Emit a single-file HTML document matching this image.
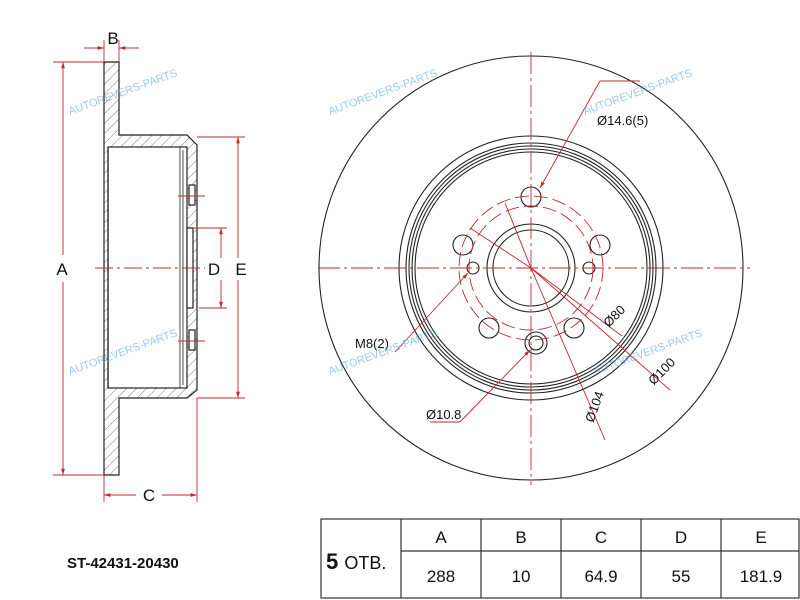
<!DOCTYPE html>
<html><head><style>
body{margin:0;background:#fff}
svg{display:block;font-family:"Liberation Sans",Arial,sans-serif}
</style></head><body>
<svg width="800" height="600" viewBox="0 0 800 600">
<defs>
<pattern id="h" width="7" height="7" patternUnits="userSpaceOnUse" patternTransform="rotate(45)"><line x1="0" y1="0" x2="0" y2="7" stroke="#444" stroke-width="0.7"/></pattern>
<marker id="a" viewBox="0 0 10 10" refX="10" refY="5" markerWidth="7" markerHeight="7" orient="auto-start-reverse"><path d="M0,2 L10,5 L0,8z" fill="#c0282e"/></marker>
</defs>
<!-- side view -->
<g stroke="#222" stroke-width="1.2">
<path d="M104,62 H119 V135 H187 L197,145 V390 L187,398 H119 V475 H104 Z" fill="url(#h)"/>
<rect x="108" y="147" width="79" height="241" fill="#fff"/>
<line x1="108" y1="147" x2="108" y2="388"/>
<line x1="180" y1="147" x2="180" y2="388" stroke-width="0.8"/>
<line x1="183" y1="150" x2="183" y2="385" stroke-width="0.8"/>
<rect x="187" y="228" width="6" height="80" fill="#fff"/>
<rect x="189" y="185" width="6" height="20" fill="#fff"/>
<rect x="189" y="330" width="6" height="20" fill="#fff"/>
</g>
<g stroke="#c0282e" stroke-width="0.9" fill="none">
<line x1="95" y1="268" x2="205" y2="268" stroke-dasharray="18,4,3,4"/>
<line x1="53" y1="62" x2="104" y2="62"/><line x1="53" y1="475" x2="104" y2="475"/>
<line x1="63" y1="62" x2="63" y2="255" marker-start="url(#a)"/><line x1="63" y1="282" x2="63" y2="475" marker-end="url(#a)"/>
<line x1="104" y1="40" x2="104" y2="62"/><line x1="119" y1="40" x2="119" y2="62"/>
<line x1="84" y1="48" x2="104" y2="48" marker-end="url(#a)"/><line x1="139" y1="48" x2="119" y2="48" marker-end="url(#a)"/>
<line x1="104" y1="475" x2="104" y2="502"/><line x1="197" y1="398" x2="197" y2="502"/>
<line x1="136" y1="495" x2="104" y2="495" marker-end="url(#a)"/><line x1="162" y1="495" x2="197" y2="495" marker-end="url(#a)"/>
<line x1="193" y1="228" x2="227" y2="228"/><line x1="199" y1="308" x2="227" y2="308"/>
<line x1="221" y1="258" x2="221" y2="228" marker-end="url(#a)"/><line x1="221" y1="280" x2="221" y2="308" marker-end="url(#a)"/>
<line x1="197" y1="137" x2="245" y2="137"/><line x1="197" y1="398" x2="245" y2="398"/>
<line x1="238" y1="258" x2="238" y2="137" marker-end="url(#a)"/><line x1="238" y1="280" x2="238" y2="398" marker-end="url(#a)"/>
<line x1="178" y1="196" x2="205" y2="196"/><line x1="178" y1="341" x2="205" y2="341"/>
</g>
<g font-size="17" fill="#111" text-anchor="middle">
<text x="62" y="275">A</text><text x="113" y="44">B</text><text x="149" y="501">C</text><text x="214" y="275">D</text><text x="241" y="275">E</text>
</g>
<!-- front view -->
<g stroke="#222" stroke-width="1.1" fill="none">
<circle cx="531" cy="268" r="212"/>
<circle cx="531" cy="268" r="132"/>
<circle cx="531" cy="268" r="125"/>
<circle cx="531" cy="268" r="122"/>
<circle cx="531" cy="268" r="119"/>
<circle cx="531" cy="268" r="116"/>
<circle cx="531" cy="268" r="44"/>
<circle cx="531" cy="268" r="38"/>
<circle cx="531" cy="197" r="10"/>
<circle cx="463" cy="245" r="10"/>
<circle cx="600" cy="245" r="10"/>
<circle cx="489" cy="328" r="10"/>
<circle cx="574" cy="328" r="10"/>
<circle cx="536" cy="343" r="11"/>
<circle cx="536" cy="343" r="7"/>
<circle cx="473" cy="268" r="6"/>
<circle cx="589" cy="268" r="6"/>
</g>
<g stroke="#c0282e" stroke-width="0.9" fill="none">
<line x1="318" y1="268" x2="750" y2="268" stroke-dasharray="22,4,3,4"/>
<line x1="531" y1="52" x2="531" y2="485" stroke-dasharray="22,4,3,4"/>
<circle cx="531" cy="268" r="72" stroke-dasharray="14,5"/>
<circle cx="531" cy="268" r="62" stroke-dasharray="14,5"/>
<line x1="531" y1="268" x2="670" y2="390"/>
<line x1="531" y1="268" x2="605" y2="440"/>
<line x1="505" y1="203" x2="531" y2="268"/>
<line x1="531" y1="268" x2="622" y2="336"/>
<line x1="470" y1="228" x2="531" y2="268"/>
<line x1="600" y1="81" x2="540" y2="188" marker-end="url(#a)"/>
<line x1="600" y1="81" x2="640" y2="81"/>
<line x1="395" y1="352" x2="468" y2="273" marker-end="url(#a)"/>
<line x1="460" y1="422" x2="530" y2="350" marker-end="url(#a)"/>
<line x1="430" y1="422" x2="460" y2="422"/>
</g>
<g font-size="13" fill="#111">
<text x="597" y="125">Ø14.6(5)</text>
<text x="355" y="348">M8(2)</text>
<text x="426" y="419">Ø10.8</text>
<text x="603" y="322" transform="rotate(-45 613 318)">Ø80</text>
<text x="648" y="378" transform="rotate(-45 660 375)">Ø100</text>
<text x="598" y="410" transform="rotate(-70 605 420)">Ø104</text>
</g>
<!-- watermarks -->
<g fill="#5aa9dc" font-size="11" opacity="0.6">
<text x="70" y="115" transform="rotate(-20 70 115)">AUTOREVERS-PARTS</text>
<text x="330" y="115" transform="rotate(-20 330 115)">AUTOREVERS-PARTS</text>
<text x="585" y="115" transform="rotate(-20 585 115)">AUTOREVERS-PARTS</text>
<text x="70" y="375" transform="rotate(-20 70 375)">AUTOREVERS-PARTS</text>
<text x="330" y="375" transform="rotate(-20 330 375)">AUTOREVERS-PARTS</text>
<text x="595" y="375" transform="rotate(-20 595 375)">AUTOREVERS-PARTS</text>
</g>
<!-- table -->
<g stroke="#333" stroke-width="1.2" fill="none">
<rect x="321" y="519" width="478" height="79"/>
<line x1="401" y1="519" x2="401" y2="598"/>
<line x1="481" y1="519" x2="481" y2="598"/>
<line x1="561" y1="519" x2="561" y2="598"/>
<line x1="641" y1="519" x2="641" y2="598"/>
<line x1="721" y1="519" x2="721" y2="598"/>
<line x1="401" y1="551" x2="799" y2="551"/>
</g>
<g font-size="17" fill="#111" text-anchor="middle">
<text x="441" y="543">A</text><text x="521" y="543">B</text><text x="601" y="543">C</text><text x="681" y="543">D</text><text x="761" y="543">E</text>
<text x="441" y="582">288</text><text x="521" y="582">10</text><text x="601" y="582">64.9</text><text x="681" y="582">55</text><text x="761" y="582">181.9</text>
</g>
<text x="326" y="569" font-size="22" font-weight="bold" fill="#111">5 <tspan font-size="18" font-weight="normal">ОТВ.</tspan></text>
<text x="67" y="568" font-size="15" font-weight="bold" fill="#111">ST-42431-20430</text>
</svg>
</body></html>
